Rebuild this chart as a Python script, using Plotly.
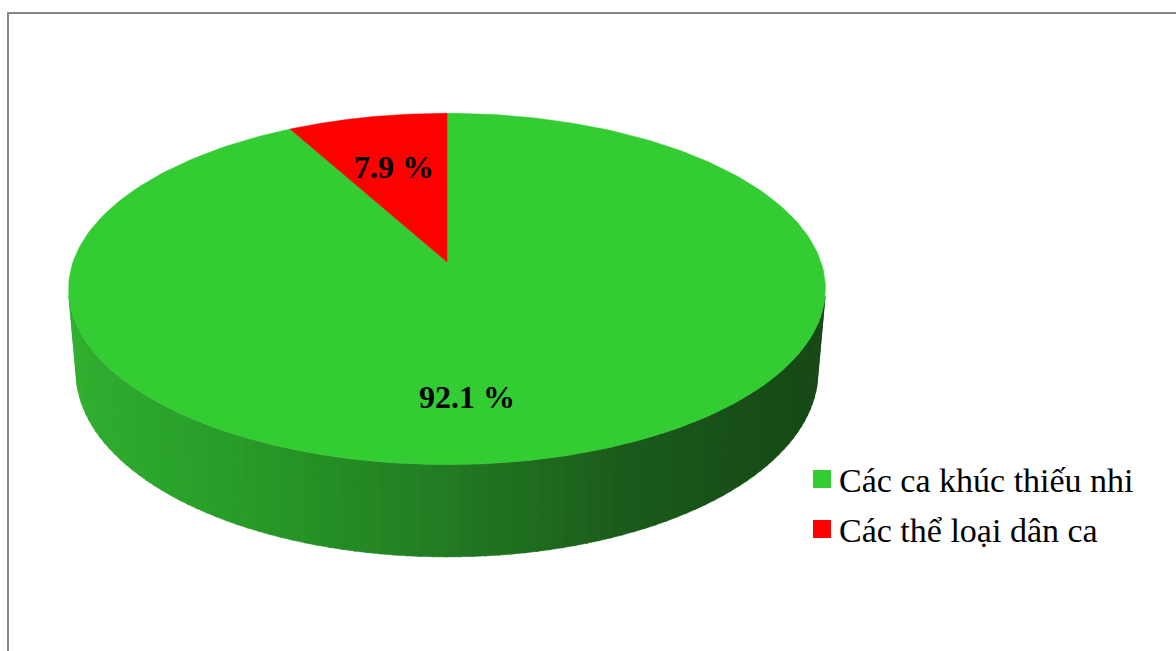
import numpy as np
import plotly.graph_objects as go

# Survey shares (percent)
categories = ["Các ca khúc thiếu nhi", "Các thể loại dân ca"]
shares = [92.1, 7.9]
top_colors = ["#33CC33", "#FF0000"]

W, H = 1176, 651

# 3D pie geometry (screen pixels) and perspective camera
CX, CY = 447.0, 262.0        # projected centre of the top face
SCALE = 374.0                # projection scale
TILT = np.radians(27.3)      # camera elevation
DIST = 5.8                   # camera distance in radii
DEPTH = 0.253                # pie thickness in radii


def project(theta, z=0.0, r=1.0):
    """theta measured clockwise from the far point of the pie."""
    X = r * np.sin(theta)
    Y = r * np.cos(theta)
    d = 1.0 + (Y * np.cos(TILT) - z * np.sin(TILT)) / DIST
    sx = CX + SCALE * X / d
    sy = CY - SCALE * (Y * np.sin(TILT) + z * np.cos(TILT)) / d
    return sx, sy


# slice boundaries (clockwise from 12 o'clock)
fracs = np.array(shares) / sum(shares)
bounds = np.concatenate([[0.0], np.cumsum(fracs)]) * 2 * np.pi

fig = go.Figure()

# --- side wall: visible where the outward normal faces the camera
cos_lim = -1.0 / (DIST * np.cos(TILT))
t0 = np.arccos(cos_lim)
t1 = 2 * np.pi - t0
n_seg = 90
edges = np.linspace(t0, t1, n_seg + 1)

grad_x = [60, 280, 450, 630, 830]
grad_rgb = np.array([[48, 176, 48], [38, 150, 38], [34, 122, 34],
                     [27, 90, 27], [21, 70, 21]])


def side_color(x):
    c = [np.interp(x, grad_x, grad_rgb[:, k]) for k in range(3)]
    return "rgb(%d,%d,%d)" % tuple(int(round(v)) for v in c)


for a, b in zip(edges[:-1], edges[1:]):
    # which slice owns this piece of wall
    mid = 0.5 * (a + b)
    idx = int(np.searchsorted(bounds, mid) - 1)
    th = np.linspace(a, b + 0.004, 4)
    tx, ty = project(th, 0.0)
    bx, by = project(th[::-1], -DEPTH)
    xs = np.concatenate([tx, bx, tx[:1]])
    ys = np.concatenate([ty, by, ty[:1]])
    col = side_color(xs.mean()) if idx == 0 else "#B00000"
    fig.add_trace(go.Scatter(
        x=xs, y=ys, mode="lines", fill="toself", fillcolor=col,
        line=dict(width=0.6, color=col), hoverinfo="skip", showlegend=False))

# --- top face slices
for i, (name, val) in enumerate(zip(categories, shares)):
    th = np.linspace(bounds[i], bounds[i + 1], 240)
    ax, ay = project(th, 0.0)
    xs = np.concatenate([[CX], ax, [CX]])
    ys = np.concatenate([[CY], ay, [CY]])
    fig.add_trace(go.Scatter(
        x=xs, y=ys, mode="lines", fill="toself", fillcolor=top_colors[i],
        line=dict(width=0.5, color=top_colors[i]), name=name,
        hoverinfo="name", showlegend=False))

# --- percentage labels inside slices
label_r = [0.62, 0.72]
label_shift = [0.04, -0.03]
for i, val in enumerate(shares):
    mid = 0.5 * (bounds[i] + bounds[i + 1]) + label_shift[i]
    if i == 0:
        lx, ly = project(np.pi, 0.0, r=label_r[i])
        lx += 20
        ly += 17
    else:
        lx, ly = project(mid, 0.0, r=label_r[i])
        lx += 14
        ly += 12
    fig.add_annotation(
        x=float(lx), y=float(ly), text="<b>%.1f %%</b>" % val, showarrow=False,
        font=dict(family="Liberation Serif", size=32, color="#000000"),
        xanchor="center", yanchor="middle")

# --- legend (keys + labels)
leg_x, leg_y0, leg_dy, key = 813, 479, 50, 18
for i, name in enumerate(categories):
    yc = leg_y0 + i * leg_dy
    fig.add_shape(type="rect", xref="x", yref="y",
                  x0=leg_x, x1=leg_x + key, y0=yc - key / 2, y1=yc + key / 2,
                  fillcolor=top_colors[i], line=dict(width=0))
    fig.add_annotation(x=leg_x + key + 6, y=yc + 1, text=name, showarrow=False,
                       xanchor="left", yanchor="middle",
                       font=dict(family="Liberation Serif", size=34,
                                 color="#000000"))

# --- chart area border
fig.add_shape(type="rect", xref="x", yref="y", x0=8, x1=W + 10, y0=13,
              y1=H + 10, line=dict(color="#868686", width=2),
              fillcolor="rgba(0,0,0,0)", layer="below")

fig.update_layout(
    width=W, height=H, margin=dict(l=0, r=0, t=0, b=0),
    paper_bgcolor="white", plot_bgcolor="white", showlegend=False,
    xaxis=dict(range=[0, W], visible=False, fixedrange=True),
    yaxis=dict(range=[H, 0], visible=False, fixedrange=True),
)

fig.write_html("out.html")
